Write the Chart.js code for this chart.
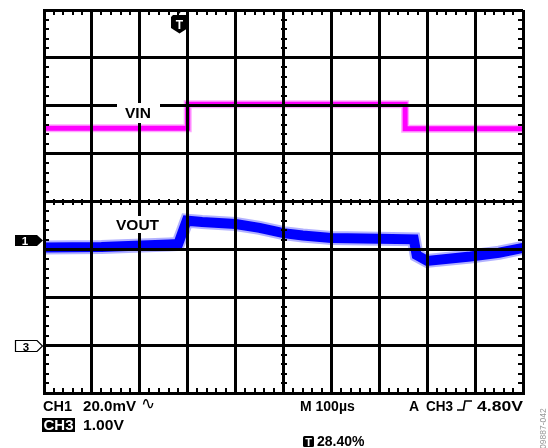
<!DOCTYPE html>
<html lang="en">
<head>
    <meta charset="UTF-8" />
    <title>VIN / VOUT scope capture</title>
    <script src="https://cdn.jsdelivr.net/npm/chart.js"></script>
    <style>
        body {
            margin: 0;
            background: #fff;
        }

        .scope {
            position: relative;
            width: 548px;
            height: 448px;
        }

        .scope canvas,
        .scope svg {
            position: absolute;
            left: 0;
            top: 0;
        }

        .scope svg {
            pointer-events: none;
            font-family: "Liberation Sans", Arial, sans-serif;
            font-weight: bold;
        }
    </style>
</head>
<body>

<div class="scope">
    <canvas id="scope" width="548" height="448"></canvas>
    <svg width="548" height="448">
        <!-- trace labels -->
        <rect x="117" y="103" width="43" height="20" fill="#fff" />
        <text x="125" y="118.3" font-size="15.5">VIN</text>
        <rect x="111" y="216" width="53" height="17" fill="#fff" />
        <text x="116" y="230" font-size="15.5">VOUT</text>

        <!-- trigger position marker -->
        <polygon points="175,9 183,9 179,14" fill="#000" />
        <polygon points="171,17 173,15 186,15 188,17 188,28 179.5,33.5 171,28" fill="#000" />
        <text x="179.5" y="28.5" font-size="12" fill="#fff" text-anchor="middle">T</text>

        <!-- channel ground markers -->
        <polygon points="15,235 37,235 43,240.5 37,246 15,246" fill="#000" />
        <text x="25" y="245.3" font-size="11.5" fill="#fff" text-anchor="middle">1</text>
        <polygon points="15.5,340.5 37,340.5 42.5,346 37,351.5 15.5,351.5" fill="#fff" stroke="#000" stroke-width="1.2" />
        <text x="26" y="350.7" font-size="11.5" text-anchor="middle">3</text>

        <!-- readout -->
        <text x="43" y="410.5" font-size="14" textLength="29" lengthAdjust="spacingAndGlyphs">CH1</text>
        <text x="83" y="410.5" font-size="14" textLength="53" lengthAdjust="spacingAndGlyphs">20.0mV</text>
        <text x="141" y="408.5" font-size="17" font-weight="normal" font-family="DejaVu Sans">∿</text>
        <rect x="42" y="418" width="33" height="14" fill="#000" />
        <text x="43.5" y="429.5" font-size="14" fill="#fff" textLength="30" lengthAdjust="spacingAndGlyphs">CH3</text>
        <text x="83" y="429.5" font-size="14" textLength="41" lengthAdjust="spacingAndGlyphs">1.00V</text>

        <text x="300" y="410.5" font-size="14">M 100µs</text>
        <text x="409" y="410.5" font-size="14">A</text>
        <text x="426" y="410.5" font-size="14" textLength="27" lengthAdjust="spacingAndGlyphs">CH3</text>
        <path d="M457,410 H463.5 L465,401 H472" fill="none" stroke="#000" stroke-width="1.6" />
        <text x="477" y="410.5" font-size="14" textLength="46" lengthAdjust="spacingAndGlyphs">4.80V</text>

        <rect x="303" y="436" width="11" height="11" rx="1.5" fill="#000" />
        <text x="308.5" y="445.5" font-size="11" fill="#fff" text-anchor="middle">T</text>
        <text x="317" y="446" font-size="14">28.40%</text>

        <text transform="translate(546,449) rotate(-90)" font-size="8.5" font-weight="normal" fill="#999">09887-042</text>
    </svg>
</div>

<script>
    // screen positions in divisions: 10 across, 8 down (centre = 0)
    const vinX = [0, 3.0, 3.0, 7.54, 7.54, 10];
    const vinY = [1.53, 1.53, 2.03, 2.03, 1.52, 1.52];

    const voutX = [0, 1.2, 2.6, 2.80, 2.98, 3.3, 4.0, 4.5, 5.0, 5.4, 6.0, 7.0, 7.72, 7.78, 8.0, 8.9, 9.5, 10];
    const voutY = [-0.96, -0.95, -0.90, -0.89, -0.40, -0.43, -0.47, -0.55, -0.66, -0.71, -0.76, -0.78, -0.79, -1.12, -1.24, -1.15, -1.07, -0.97];

    const toPoints = (xs, ys) => xs.map((x, i) => ({ x: x, y: ys[i] }));

    // small graticule ticks: 5 per division on the frame and on the centre lines
    const graticuleTicks = {
        id: 'graticuleTicks',
        afterDraw(chart) {
            const { ctx, chartArea: a, scales: { x, y } } = chart;
            const cx = x.getPixelForValue(5);
            const cy = y.getPixelForValue(0);
            ctx.save();
            ctx.fillStyle = '#000';
            for (let i = 0; i <= 50; i++) {
                const px = Math.round(x.getPixelForValue(i / 5));
                ctx.fillRect(px - 1, a.top, 2, 5);
                ctx.fillRect(px - 1, a.bottom - 5, 2, 5);
                ctx.fillRect(px - 1, Math.round(cy) - 3, 2, 6);
            }
            for (let i = -20; i <= 20; i++) {
                const py = Math.round(y.getPixelForValue(i / 5));
                ctx.fillRect(a.left, py - 1, 5, 2);
                ctx.fillRect(a.right - 5, py - 1, 5, 2);
                ctx.fillRect(Math.round(cx) - 3, py - 1, 6, 2);
            }
            ctx.restore();
        }
    };

    const scope = new Chart(document.getElementById('scope'), {
        type: 'line',
        data: {
            datasets: [
                {
                    label: 'VIN halo',
                    data: toPoints(vinX, vinY),
                    borderColor: 'rgba(255, 0, 255, 0.35)',
                    borderWidth: 8
                },
                {
                    label: 'VIN',
                    data: toPoints(vinX, vinY),
                    borderColor: '#ff00ff',
                    borderWidth: 5
                },
                {
                    label: 'VOUT halo',
                    data: toPoints(voutX, voutY),
                    borderColor: 'rgba(0, 0, 255, 0.3)',
                    borderWidth: 14
                },
                {
                    label: 'VOUT',
                    data: toPoints(voutX, voutY),
                    borderColor: '#0000ff',
                    borderWidth: 10
                }
            ]
        },
        options: {
            responsive: false,
            animation: false,
            devicePixelRatio: 1,
            layout: {
                padding: { left: 44, top: 10, right: 25, bottom: 55 }
            },
            elements: {
                line: { tension: 0, borderCapStyle: 'butt', borderJoinStyle: 'miter' },
                point: { radius: 0 }
            },
            scales: {
                x: {
                    type: 'linear',
                    min: 0,
                    max: 10,
                    ticks: { display: false, stepSize: 1 },
                    grid: { color: '#000', lineWidth: 3, drawTicks: false, z: 1 },
                    border: { color: '#000', width: 3, z: 1 }
                },
                y: {
                    type: 'linear',
                    min: -4,
                    max: 4,
                    ticks: { display: false, stepSize: 1 },
                    grid: { color: '#000', lineWidth: 3, drawTicks: false, z: 1 },
                    border: { color: '#000', width: 3, z: 1 }
                }
            },
            plugins: {
                legend: { display: false },
                tooltip: { enabled: false }
            }
        },
        plugins: [graticuleTicks]
    });
</script>

</body>
</html>
